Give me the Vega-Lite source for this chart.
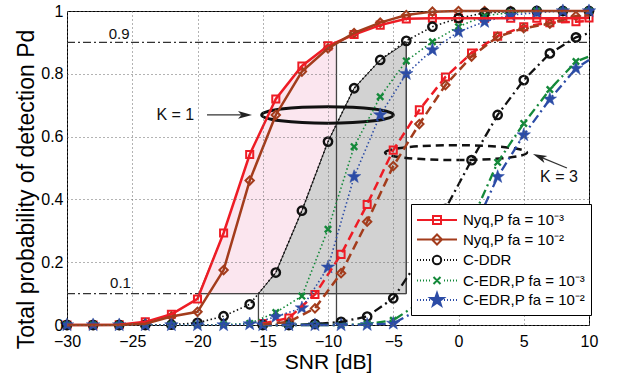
{
"$schema": "https://vega.github.io/schema/vega-lite/v6.json",
"width": 522, "height": 314,
"autosize": {"type": "none"},
"padding": {"left": 67, "top": 11, "right": 33, "bottom": 51},
"background": "white",
"config": {"font": "Liberation Sans", "view": {"stroke": "black", "strokeWidth": 1}},
"datasets": {
"curves": [
{"c":"N3","k":1,"x":-30,"y":0},{"c":"N3","k":1,"x":-28,"y":0},{"c":"N3","k":1,"x":-26,"y":0.001},{"c":"N3","k":1,"x":-24,"y":0.01},{"c":"N3","k":1,"x":-22,"y":0.034},{"c":"N3","k":1,"x":-20,"y":0.083},{"c":"N3","k":1,"x":-18,"y":0.293},{"c":"N3","k":1,"x":-16,"y":0.543},{"c":"N3","k":1,"x":-14,"y":0.72},{"c":"N3","k":1,"x":-12,"y":0.825},{"c":"N3","k":1,"x":-10,"y":0.889},{"c":"N3","k":1,"x":-8,"y":0.925},{"c":"N3","k":1,"x":-6,"y":0.955},{"c":"N3","k":1,"x":-4,"y":0.975},{"c":"N3","k":1,"x":-2,"y":0.977},{"c":"N3","k":1,"x":0,"y":0.977},{"c":"N3","k":1,"x":2,"y":0.977},{"c":"N3","k":1,"x":4,"y":0.977},{"c":"N3","k":1,"x":6,"y":0.977},{"c":"N3","k":1,"x":8,"y":0.977},{"c":"N3","k":1,"x":10,"y":0.978},
{"c":"N2","k":1,"x":-30,"y":0},{"c":"N2","k":1,"x":-28,"y":0},{"c":"N2","k":1,"x":-26,"y":0},{"c":"N2","k":1,"x":-24,"y":0.004},{"c":"N2","k":1,"x":-22,"y":0.027},{"c":"N2","k":1,"x":-20,"y":0.042},{"c":"N2","k":1,"x":-18,"y":0.175},{"c":"N2","k":1,"x":-16,"y":0.46},{"c":"N2","k":1,"x":-14,"y":0.669},{"c":"N2","k":1,"x":-12,"y":0.807},{"c":"N2","k":1,"x":-10,"y":0.881},{"c":"N2","k":1,"x":-8,"y":0.93},{"c":"N2","k":1,"x":-6,"y":0.963},{"c":"N2","k":1,"x":-4,"y":0.987},{"c":"N2","k":1,"x":-2,"y":0.998},{"c":"N2","k":1,"x":0,"y":1},{"c":"N2","k":1,"x":2,"y":1},{"c":"N2","k":1,"x":4,"y":1},{"c":"N2","k":1,"x":6,"y":1},{"c":"N2","k":1,"x":8,"y":1},{"c":"N2","k":1,"x":10,"y":1},
{"c":"D","k":1,"x":-30,"y":0},{"c":"D","k":1,"x":-28,"y":0},{"c":"D","k":1,"x":-26,"y":0},{"c":"D","k":1,"x":-24,"y":0},{"c":"D","k":1,"x":-22,"y":0.001},{"c":"D","k":1,"x":-20,"y":0.007},{"c":"D","k":1,"x":-18,"y":0.028},{"c":"D","k":1,"x":-16,"y":0.066},{"c":"D","k":1,"x":-14,"y":0.167},{"c":"D","k":1,"x":-12,"y":0.364},{"c":"D","k":1,"x":-10,"y":0.584},{"c":"D","k":1,"x":-8,"y":0.754},{"c":"D","k":1,"x":-6,"y":0.844},{"c":"D","k":1,"x":-4,"y":0.905},{"c":"D","k":1,"x":-2,"y":0.95},{"c":"D","k":1,"x":0,"y":0.977},{"c":"D","k":1,"x":2,"y":0.994},{"c":"D","k":1,"x":4,"y":0.998},{"c":"D","k":1,"x":6,"y":1},{"c":"D","k":1,"x":8,"y":1},{"c":"D","k":1,"x":10,"y":1},
{"c":"E3","k":1,"x":-30,"y":0},{"c":"E3","k":1,"x":-28,"y":0},{"c":"E3","k":1,"x":-26,"y":0},{"c":"E3","k":1,"x":-24,"y":0},{"c":"E3","k":1,"x":-22,"y":0},{"c":"E3","k":1,"x":-20,"y":0},{"c":"E3","k":1,"x":-18,"y":0.001},{"c":"E3","k":1,"x":-16,"y":0.005},{"c":"E3","k":1,"x":-14,"y":0.04},{"c":"E3","k":1,"x":-12,"y":0.092},{"c":"E3","k":1,"x":-10,"y":0.305},{"c":"E3","k":1,"x":-8,"y":0.568},{"c":"E3","k":1,"x":-6,"y":0.727},{"c":"E3","k":1,"x":-4,"y":0.841},{"c":"E3","k":1,"x":-2,"y":0.902},{"c":"E3","k":1,"x":0,"y":0.95},{"c":"E3","k":1,"x":2,"y":0.985},{"c":"E3","k":1,"x":4,"y":0.995},{"c":"E3","k":1,"x":6,"y":1},{"c":"E3","k":1,"x":8,"y":1},{"c":"E3","k":1,"x":10,"y":1},
{"c":"E2","k":1,"x":-30,"y":0},{"c":"E2","k":1,"x":-28,"y":0},{"c":"E2","k":1,"x":-26,"y":0},{"c":"E2","k":1,"x":-24,"y":0},{"c":"E2","k":1,"x":-22,"y":0},{"c":"E2","k":1,"x":-20,"y":0},{"c":"E2","k":1,"x":-18,"y":0},{"c":"E2","k":1,"x":-16,"y":0.003},{"c":"E2","k":1,"x":-14,"y":0.026},{"c":"E2","k":1,"x":-12,"y":0.054},{"c":"E2","k":1,"x":-10,"y":0.184},{"c":"E2","k":1,"x":-8,"y":0.472},{"c":"E2","k":1,"x":-6,"y":0.669},{"c":"E2","k":1,"x":-4,"y":0.8},{"c":"E2","k":1,"x":-2,"y":0.876},{"c":"E2","k":1,"x":0,"y":0.934},{"c":"E2","k":1,"x":2,"y":0.966},{"c":"E2","k":1,"x":4,"y":0.987},{"c":"E2","k":1,"x":6,"y":0.995},{"c":"E2","k":1,"x":8,"y":1},{"c":"E2","k":1,"x":10,"y":1},
{"c":"N3","k":3,"x":-15,"y":0.005},{"c":"N3","k":3,"x":-13,"y":0.022},{"c":"N3","k":3,"x":-11,"y":0.097},{"c":"N3","k":3,"x":-9,"y":0.225},{"c":"N3","k":3,"x":-7,"y":0.384},{"c":"N3","k":3,"x":-5,"y":0.557},{"c":"N3","k":3,"x":-3,"y":0.685},{"c":"N3","k":3,"x":-1,"y":0.79},{"c":"N3","k":3,"x":1,"y":0.866},{"c":"N3","k":3,"x":3,"y":0.92},{"c":"N3","k":3,"x":5,"y":0.95},{"c":"N3","k":3,"x":7,"y":0.963},{"c":"N3","k":3,"x":9,"y":0.966},{"c":"N3","k":3,"x":10,"y":0.968},
{"c":"N2","k":3,"x":-15,"y":0.002},{"c":"N2","k":3,"x":-13,"y":0.01},{"c":"N2","k":3,"x":-11,"y":0.053},{"c":"N2","k":3,"x":-9,"y":0.165},{"c":"N2","k":3,"x":-7,"y":0.329},{"c":"N2","k":3,"x":-5,"y":0.506},{"c":"N2","k":3,"x":-3,"y":0.64},{"c":"N2","k":3,"x":-1,"y":0.764},{"c":"N2","k":3,"x":1,"y":0.855},{"c":"N2","k":3,"x":3,"y":0.918},{"c":"N2","k":3,"x":5,"y":0.945},{"c":"N2","k":3,"x":7,"y":0.96},{"c":"N2","k":3,"x":9,"y":0.984},{"c":"N2","k":3,"x":10,"y":0.986},
{"c":"D","k":3,"x":-15,"y":0},{"c":"D","k":3,"x":-13,"y":0},{"c":"D","k":3,"x":-11,"y":0.003},{"c":"D","k":3,"x":-9,"y":0.01},{"c":"D","k":3,"x":-7,"y":0.027},{"c":"D","k":3,"x":-5,"y":0.085},{"c":"D","k":3,"x":-3,"y":0.21},{"c":"D","k":3,"x":-1,"y":0.37},{"c":"D","k":3,"x":1,"y":0.525},{"c":"D","k":3,"x":3,"y":0.669},{"c":"D","k":3,"x":5,"y":0.78},{"c":"D","k":3,"x":7,"y":0.865},{"c":"D","k":3,"x":9,"y":0.916},{"c":"D","k":3,"x":10,"y":0.93},
{"c":"E3","k":3,"x":-15,"y":0},{"c":"E3","k":3,"x":-13,"y":0},{"c":"E3","k":3,"x":-11,"y":0},{"c":"E3","k":3,"x":-9,"y":0},{"c":"E3","k":3,"x":-7,"y":0.003},{"c":"E3","k":3,"x":-5,"y":0.015},{"c":"E3","k":3,"x":-3,"y":0.07},{"c":"E3","k":3,"x":-1,"y":0.17},{"c":"E3","k":3,"x":1,"y":0.33},{"c":"E3","k":3,"x":3,"y":0.518},{"c":"E3","k":3,"x":5,"y":0.642},{"c":"E3","k":3,"x":7,"y":0.75},{"c":"E3","k":3,"x":9,"y":0.839},{"c":"E3","k":3,"x":10,"y":0.855},
{"c":"E2","k":3,"x":-15,"y":0},{"c":"E2","k":3,"x":-13,"y":0},{"c":"E2","k":3,"x":-11,"y":0},{"c":"E2","k":3,"x":-9,"y":0},{"c":"E2","k":3,"x":-7,"y":0.001},{"c":"E2","k":3,"x":-5,"y":0.005},{"c":"E2","k":3,"x":-3,"y":0.05},{"c":"E2","k":3,"x":-1,"y":0.14},{"c":"E2","k":3,"x":1,"y":0.29},{"c":"E2","k":3,"x":3,"y":0.472},{"c":"E2","k":3,"x":5,"y":0.605},{"c":"E2","k":3,"x":7,"y":0.719},{"c":"E2","k":3,"x":9,"y":0.817},{"c":"E2","k":3,"x":10,"y":0.844}
]
},
"encoding": {
  "x": {"field": "x", "type": "quantitative", "scale": {"domain": [-30, 10], "nice": false, "zero": false},
        "axis": {"values": [-30,-25,-20,-15,-10,-5,0,5,10], "labelFlush": false, "grid": true, "gridDash": [1,3], "gridColor": "#666", "gridWidth": 1, "domain": false, "ticks": false, "labelFontSize": 16, "labelColor": "black", "labelPadding": 8, "title": "SNR [dB]", "titleFontSize": 21, "titleFontWeight": "normal", "titleColor": "black", "titlePadding": 2, "zindex": 1}},
  "y": {"field": "y", "type": "quantitative", "scale": {"domain": [0, 1], "nice": false},
        "axis": {"values": [0,0.2,0.4,0.6,0.8,1], "labelFlush": false, "labelExpr": "datum.value == 0 ? '0' : datum.value == 1 ? '1' : format(datum.value, '.1f')", "grid": true, "gridDash": [1,3], "gridColor": "#666", "gridWidth": 1, "domain": false, "ticks": false, "labelFontSize": 16, "labelColor": "black", "labelPadding": 4, "title": "Total probability of detection  Pd", "titleFontSize": 23, "titleFontWeight": "normal", "titleColor": "black", "titleX": -34, "titleY": 178, "titleBaseline": "alphabetic", "zindex": 1}}
},
"layer": [
  {"data": {"name": "curves"}, "transform": [{"filter": "datum.k == 99"}],
   "mark": {"type": "point", "filled": true, "size": 400, "strokeWidth": 2, "opacity": 1},
   "encoding": {
     "stroke": {"field": "c", "type": "nominal", "scale": {"domain": ["N3","N2","D","E3","E2"], "range": ["#ee1c25","#a33c1c","#111111","#14893a","#2c4ca6"]},
       "legend": {"title": null, "orient": "none", "legendX": 344, "legendY": 193, "strokeColor": "black", "fillColor": "white", "padding": 5, "cornerRadius": 0, "symbolSize": 400, "symbolStrokeWidth": 2, "labelFontSize": 15, "labelFont": "Liberation Sans", "labelColor": "black", "labelOffset": 25, "rowPadding": 0.5, "zindex": 2,
         "labelExpr": "datum.label == 'N3' ? 'Nyq,P fa = 10⁻³' : datum.label == 'N2' ? 'Nyq,P fa = 10⁻²' : datum.label == 'D' ? 'C-DDR' : datum.label == 'E3' ? 'C-EDR,P fa = 10⁻³' : 'C-EDR,P fa = 10⁻²'"}},
     "fill": {"field": "c", "type": "nominal", "scale": {"domain": ["N3","N2","D","E3","E2"], "range": ["transparent","transparent","transparent","transparent","#2c4ca6"]}},
     "shape": {"field": "c", "type": "nominal", "scale": {"domain": ["N3","N2","D","E3","E2"], "range": [
       "M-1,0H3M0.6,-0.4H1.4V0.4H0.6Z",
       "M-1,0H3M1,-0.5L1.5,0L1,0.5L0.5,0Z",
       "M-1,0H-0.9M-0.7,0H-0.6M-0.4,0H-0.3M-0.1,0H0M0.2,0H0.3M1.7,0H1.8M2,0H2.1M2.3,0H2.4M2.6,0H2.7M2.9,0H3M0.58,0C0.58,-0.232,0.768,-0.42,1,-0.42C1.232,-0.42,1.42,-0.232,1.42,0C1.42,0.232,1.232,0.42,1,0.42C0.768,0.42,0.58,0.232,0.58,0Z",
       "M-1,0H-0.9M-0.7,0H-0.6M-0.4,0H-0.3M-0.1,0H0M0.2,0H0.3M1.7,0H1.8M2,0H2.1M2.3,0H2.4M2.6,0H2.7M2.9,0H3M0.65,-0.35L1.35,0.35M0.65,0.35L1.35,-0.35",
       "M-1,0H-0.9M-0.7,0H-0.6M-0.4,0H-0.3M-0.1,0H0M0.2,0H0.3M1.7,0H1.8M2,0H2.1M2.3,0H2.4M2.6,0H2.7M2.9,0H3M1,-0.7L1.165,-0.227L1.666,-0.216L1.266,0.087L1.412,0.566L1,0.28L0.588,0.566L0.734,0.087L0.334,-0.216L0.835,-0.227Z"
     ]}}
   }},
  {"data": {"values": [{"x":-19.9,"y":0.1},{"x":-18,"y":0.293},{"x":-16,"y":0.543},{"x":-14,"y":0.72},{"x":-12,"y":0.825},{"x":-10,"y":0.889},{"x":-9.35,"y":0.9}]},
   "mark": {"type": "area", "fill": "#fbe6ef", "stroke": "#333333", "strokeWidth": 0.8},
   "encoding": {"y2": {"datum": 0.1}}},
  {"data": {"values": [{"x":-15.33,"y":0.1},{"x":-14,"y":0.167},{"x":-12,"y":0.364},{"x":-10,"y":0.584},{"x":-8,"y":0.754},{"x":-6,"y":0.844},{"x":-4,"y":0.9}]},
   "mark": {"type": "area", "fill": "#d2d2d2", "stroke": "#222222", "strokeWidth": 1},
   "encoding": {"y2": {"datum": 0.1}}},
  {"data": {"values": [{"x":-30,"x2":10,"y":0.9,"y2":0.9},{"x":-30,"x2":-19.9,"y":0.1,"y2":0.1}]},
   "mark": {"type": "rule", "color": "#333333", "strokeWidth": 1.2, "strokeDash": [8,3,2,3]},
   "encoding": {"x2": {"field": "x2"}, "y2": {"field": "y2"}}},
  {"data": {"values": [{"x":-19.9,"x2":-4,"y":0.1,"y2":0.1},{"x":-15.33,"x2":-15.33,"y":0,"y2":0.1},{"x":-9.35,"x2":-9.35,"y":0,"y2":0.9},{"x":-4,"x2":-4,"y":0.1,"y2":0.9}]},
   "mark": {"type": "rule", "color": "#444444", "strokeWidth": 1.3},
   "encoding": {"x2": {"field": "x2"}, "y2": {"field": "y2"}}},
  {"data": {"values": [{"x":-10.04,"y":0.669}]},
   "mark": {"type": "point", "shape": "M-1,0C-1,-0.0696,-0.5523,-0.126,0,-0.126C0.5523,-0.126,1,-0.0696,1,0C1,0.0696,0.5523,0.126,0,0.126C-0.5523,0.126,-1,0.0696,-1,0Z", "size": 17319, "filled": false, "stroke": "#111111", "strokeWidth": 3, "opacity": 1}},
  {"data": {"values": [{"x":-0.19,"y":0.549}]},
   "mark": {"type": "point", "shape": "M-1,0C-1,-0.058,-0.5523,-0.105,0,-0.105C0.5523,-0.105,1,-0.058,1,0C1,0.058,0.5523,0.105,0,0.105C-0.5523,0.105,-1,0.058,-1,0Z", "size": 20164, "filled": false, "stroke": "#111111", "strokeWidth": 2.5, "strokeDash": [8,5], "opacity": 1}},
  {"data": {"values": [{"x":-19.27,"x2":-16.5,"y":0.669,"y2":0.669},{"x":8.31,"x2":6.2,"y":0.5,"y2":0.536}]},
   "mark": {"type": "rule", "color": "#333333", "strokeWidth": 1.3},
   "encoding": {"x2": {"field": "x2"}, "y2": {"field": "y2"}}},
  {"data": {"values": [{"x":-16.36,"y":0.669}]},
   "mark": {"type": "point", "shape": "M1,0L-1,-0.55L-0.5,0L-1,0.55Z", "size": 196, "filled": true, "fill": "#222222", "opacity": 1}},
  {"data": {"values": [{"x":6.2,"y":0.536}]},
   "mark": {"type": "point", "shape": "M1,0L-1,-0.55L-0.5,0L-1,0.55Z", "size": 196, "filled": true, "fill": "#222222", "opacity": 1, "angle": 203}},
  {"data": {"values": [{"x":-26.0,"y":0.911,"t":"0.9"},{"x":-25.9,"y":0.117,"t":"0.1"}]},
   "mark": {"type": "text", "fontSize": 15, "align": "center", "baseline": "alphabetic", "color": "#111111"},
   "encoding": {"text": {"field": "t"}}},
  {"data": {"values": [{"x":-21.7,"y":0.653,"t":"K = 1"},{"x":7.7,"y":0.456,"t":"K = 3"}]},
   "mark": {"type": "text", "fontSize": 16, "align": "center", "baseline": "alphabetic", "color": "#111111"},
   "encoding": {"text": {"field": "t"}}},
  {"data": {"name": "curves"}, "transform": [{"filter": "datum.c == 'N3' && (datum.k == 1 || datum.x != 10)"}],
   "mark": {"type": "point", "shape": "square", "size": 50, "filled": false, "stroke": "#ee1c25", "strokeWidth": 2, "opacity": 1}},
  {"data": {"name": "curves"}, "transform": [{"filter": "datum.c == 'N2' && (datum.k == 1 || datum.x != 10)"}],
   "mark": {"type": "point", "shape": "diamond", "size": 70, "filled": false, "stroke": "#a33c1c", "strokeWidth": 2, "opacity": 1}},
  {"data": {"name": "curves"}, "transform": [{"filter": "datum.c == 'D' && (datum.k == 1 || datum.x != 10)"}],
   "mark": {"type": "point", "shape": "circle", "size": 70, "filled": false, "stroke": "#111111", "strokeWidth": 2.4, "opacity": 1}},
  {"data": {"name": "curves"}, "transform": [{"filter": "datum.c == 'E3' && (datum.k == 1 || datum.x != 10)"}],
   "mark": {"type": "point", "shape": "M-1,-1L1,1M-1,1L1,-1", "size": 40, "filled": false, "stroke": "#14893a", "strokeWidth": 2.4, "opacity": 1}},
  {"data": {"name": "curves"}, "transform": [{"filter": "datum.c == 'E2' && (datum.k == 1 || datum.x != 10)"}],
   "mark": {"type": "point", "shape": "M0,-1L0.235,-0.324L0.951,-0.309L0.38,0.124L0.588,0.809L0,0.4L-0.588,0.809L-0.38,0.124L-0.951,-0.309L-0.235,-0.324Z", "size": 200, "filled": true, "fill": "#2c4ca6", "stroke": "#2c4ca6", "strokeWidth": 0.5, "opacity": 1}},
  {"data": {"name": "curves"}, "transform": [{"filter": "datum.k == 3 && (datum.c == 'D' || datum.c == 'E3' || datum.c == 'E2')"}],
   "mark": {"type": "line", "strokeWidth": 2.3, "strokeDash": [9,4,2,4]},
   "encoding": {"stroke": {"field": "c", "type": "nominal"}}},
  {"data": {"name": "curves"}, "transform": [{"filter": "datum.k == 3 && (datum.c == 'N3' || datum.c == 'N2')"}],
   "mark": {"type": "line", "strokeWidth": 2.5, "strokeDash": [9,5]},
   "encoding": {"stroke": {"field": "c", "type": "nominal"}}},
  {"data": {"name": "curves"}, "transform": [{"filter": "datum.k == 1 && (datum.c == 'D' || datum.c == 'E3' || datum.c == 'E2')"}],
   "mark": {"type": "line", "strokeWidth": 1.6, "strokeDash": [1.5,2.5]},
   "encoding": {"stroke": {"field": "c", "type": "nominal"}}},
  {"data": {"name": "curves"}, "transform": [{"filter": "datum.k == 1 && (datum.c == 'N3' || datum.c == 'N2')"}],
   "mark": {"type": "line", "strokeWidth": 2.5},
   "encoding": {"stroke": {"field": "c", "type": "nominal"}}}
]
}
